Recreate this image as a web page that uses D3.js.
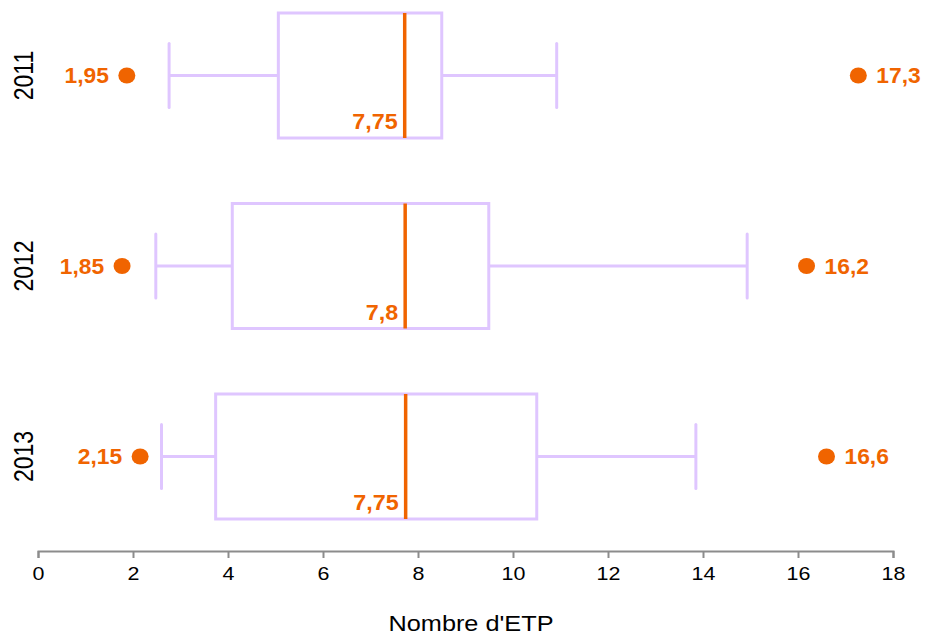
<!DOCTYPE html>
<html><head><meta charset="utf-8">
<script src="https://cdn.jsdelivr.net/npm/d3@7"></script>
<style>body{margin:0;background:#fff}svg{display:block}</style>
</head><body>
<script>
const years = ["2011", "2012", "2013"];
const whiskerLow = [2.76, 2.48, 2.60];
const q1 = [5.06, 4.09, 3.74];
const median = [7.72, 7.73, 7.74];
const q3 = [8.50, 9.49, 10.50];
const whiskerHigh = [10.92, 14.93, 13.85];
const outlierLow = [1.87, 1.77, 2.15];
const outlierHigh = [17.27, 16.18, 16.60];
const outlierLowLabels = ["1,95", "1,85", "2,15"];
const outlierHighLabels = ["17,3", "16,2", "16,6"];
const medianLabels = ["7,75", "7,8", "7,75"];
const xTicks = [0, 2, 4, 6, 8, 10, 12, 14, 16, 18];

const W = 925, H = 636;
const box = "#DFC6FF", orange = "#F06400";
const FONT = "Liberation Sans, Arial, sans-serif";
const SX = 1.13;  // horizontal stretch of the reference's regular text
const SXB = 1.06; // horizontal stretch of the bold labels
const svg = d3.select("body").append("svg").attr("width", W).attr("height", H);

const x = d3.scaleLinear().domain([0, 18]).range([38, 893]);
const y = d3.scalePoint().domain(years).range([75.5, 456.5]);
const boxH = 125, capH = 64;

const data = years.map((yr, i) => ({yr, i}));
const g = svg.append("g");

// whiskers
g.selectAll(".wl").data(data).join("line")
  .attr("x1", d => x(whiskerLow[d.i])).attr("x2", d => x(q1[d.i]))
  .attr("y1", d => y(d.yr)).attr("y2", d => y(d.yr))
  .attr("stroke", box).attr("stroke-width", 3);
g.selectAll(".wh").data(data).join("line")
  .attr("x1", d => x(q3[d.i])).attr("x2", d => x(whiskerHigh[d.i]))
  .attr("y1", d => y(d.yr)).attr("y2", d => y(d.yr))
  .attr("stroke", box).attr("stroke-width", 3);
// caps
[whiskerLow, whiskerHigh].forEach(arr => {
  g.append("g").selectAll("line").data(data).join("line")
    .attr("x1", d => x(arr[d.i])).attr("x2", d => x(arr[d.i]))
    .attr("y1", d => y(d.yr) - capH / 2).attr("y2", d => y(d.yr) + capH / 2)
    .attr("stroke", box).attr("stroke-width", 3).attr("stroke-linecap", "round");
});
// boxes
g.append("g").selectAll("rect").data(data).join("rect")
  .attr("x", d => x(q1[d.i])).attr("width", d => x(q3[d.i]) - x(q1[d.i]))
  .attr("y", d => y(d.yr) - boxH / 2).attr("height", boxH)
  .attr("fill", "none").attr("stroke", box).attr("stroke-width", 3);
// medians
g.append("g").selectAll("line").data(data).join("line")
  .attr("x1", d => x(median[d.i])).attr("x2", d => x(median[d.i]))
  .attr("y1", d => y(d.yr) - boxH / 2).attr("y2", d => y(d.yr) + boxH / 2)
  .attr("stroke", orange).attr("stroke-width", 3.5);
g.append("g").selectAll("text").data(data).join("text")
  .attr("transform", d => `translate(${x(median[d.i]) - 7},${y(d.yr) + boxH / 2 - 9}) scale(${SXB},1)`)
  .attr("text-anchor", "end").attr("fill", orange)
  .attr("font-family", FONT).attr("font-weight", "bold").attr("font-size", 22)
  .text(d => medianLabels[d.i]);
// outliers
[[outlierLow, outlierLowLabels, -18, "end"], [outlierHigh, outlierHighLabels, 18, "start"]].forEach(([vals, labs, dx, anchor]) => {
  g.append("g").selectAll("ellipse").data(data).join("ellipse")
    .attr("cx", d => x(vals[d.i])).attr("cy", d => y(d.yr))
    .attr("rx", 8.5).attr("ry", 8).attr("fill", orange);
  g.append("g").selectAll("text").data(data).join("text")
    .attr("transform", d => `translate(${x(vals[d.i]) + dx},${y(d.yr)}) scale(${SXB},1)`)
    .attr("dy", "0.36em")
    .attr("text-anchor", anchor).attr("fill", orange)
    .attr("font-family", FONT).attr("font-weight", "bold").attr("font-size", 21.5)
    .text(d => labs[d.i]);
});
// year labels
svg.append("g").selectAll("text").data(years).join("text")
  .attr("transform", d => `translate(33,${y(d)}) rotate(-90) scale(1,1.22)`)
  .attr("text-anchor", "middle").attr("fill", "#000")
  .attr("font-family", FONT).attr("font-size", 23)
  .text(d => d);

// x axis
const ax = svg.append("g").attr("transform", "translate(0,551)")
  .call(d3.axisBottom(x).tickValues(xTicks).tickSize(7).tickPadding(9).tickFormat(d3.format("d")));
ax.select(".domain").attr("stroke", "#8c8c8c").attr("stroke-width", 2);
ax.selectAll(".tick line").attr("stroke", "#8c8c8c").attr("stroke-width", 2);
ax.selectAll(".tick text").attr("fill", "#000").attr("font-size", 19)
  .attr("font-family", FONT).attr("transform", `scale(${SX},1)`);
svg.append("text").attr("transform", `translate(471,631) scale(1.15,1)`).attr("text-anchor", "middle")
  .attr("font-family", FONT).attr("font-size", 22).attr("fill", "#000")
  .text("Nombre d'ETP");
</script>
</body></html>
